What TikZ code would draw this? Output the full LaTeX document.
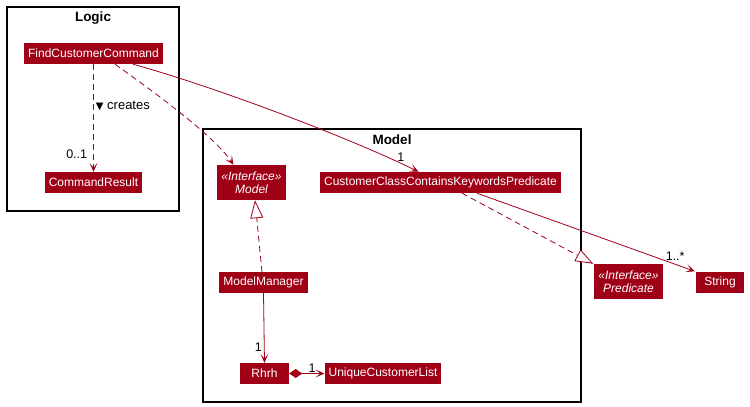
\documentclass[tikz,border=0pt]{standalone}
\usepackage{fontspec}
\setmainfont{Liberation Sans}
\newfontfamily\symfont{DejaVu Sans}
\usetikzlibrary{arrows.meta}
\definecolor{umlred}{RGB}{160,0,22}
\tikzset{
  cls/.style={
    fill=umlred,
    text=white,
    inner xsep=4pt,
    inner ysep=0pt,
    minimum height=21pt,
    font=\fontsize{12}{12}\selectfont},
  iface/.style={
    cls,
    align=center,
    minimum width=63pt,
    minimum height=35pt,
    font=\fontsize{12}{13.5}\selectfont\itshape},
  pkg/.style={draw, line width=1.2pt},
  pkgname/.style={font=\fontsize{13.5}{14}\selectfont\bfseries},
  mult/.style={font=\fontsize{12.5}{12}\selectfont, inner sep=0pt, text=black},
  assoc/.style={
    ->,
    >={Stealth[length=9pt,width=8pt,inset=5pt]},
    draw=umlred,
    line width=0.8pt},
  dep/.style={assoc, dash pattern=on 6pt off 4pt},
  real/.style={
    -{Triangle[open,length=18pt,width=13pt,fill=white]},
    draw=umlred,
    line width=0.8pt,
    dash pattern=on 6pt off 4pt},
  comp/.style={assoc, {Diamond[length=13pt,width=9pt]}->}
}

\begin{document}
\begin{tikzpicture}[x=1pt,y=-1pt]
  \useasboundingbox (0,0) rectangle (750,407);
  \draw[pkg] (7,7) rectangle (179,211);
  \draw[pkg] (203,129) rectangle (581,402);
  \node[pkgname] (logic) at (93,18) {Logic};
  \node[pkgname] (model) at (392,140) {Model};
  \node[cls] (fcc) at (93.5,53.5) {FindCustomerCommand};
  \node[cls] (cr) at (93.5,182.5) {CommandResult};
  \node[iface] (imodel) at (251.5,182.5) {«Interface»\\Model};
  \node[cls] (ckp) at (440.5,182.5) {CustomerClassContainsKeywordsPredicate};
  \node[cls] (mm) at (263.5,282.5) {ModelManager};
  \node[cls, minimum width=49pt] (rhrh) at (264.5,373.5) {Rhrh};
  \node[cls] (ucl) at (383,373.5) {UniqueCustomerList};
  \node[iface] (ipred) at (628.5,281.5) {«Interface»\\Predicate};
  \node[cls, minimum width=48pt] (str) at (720,282) {String};
  \draw [dep] (fcc.south) -- node[mult, pos=0.39, right=2pt, font=\fontsize{13}{13}\selectfont]{{\symfont\fontsize{10}{10}\selectfont ▼} creates}
    node[mult, pos=0.84, left=6pt]{0..1} (cr.north);
  \draw [dep] ([xshift=21.5pt]fcc.south) .. controls +(35,25) and +(-20,-30) .. ([xshift=-18pt]imodel.north);
  \draw [assoc] ([xshift=39.5pt]fcc.south) .. controls +(90,25) and +(-60,-30) ..
    node[mult, pos=0.93, above=3pt, xshift=-4pt]{1} ([xshift=-22pt]ckp.north);
  \draw [real] ([xshift=-1.5pt]mm.north) -- ([xshift=3.5pt]imodel.south);
  \draw [assoc] (mm.south) -- node[mult, pos=0.77, left=2pt]{1} (rhrh.north);
  \draw [comp] (rhrh.east) -- node[mult, pos=0.65, above=1pt]{1} (ucl.west);
  \draw [real] ([xshift=21.5pt]ckp.south) -- ([xshift=-1pt]ipred.north west);
  \draw [assoc] ([xshift=36.5pt]ckp.south) -- node[mult, pos=0.91, above=3pt]{1..*} ([xshift=-1pt]str.north west);
\end{tikzpicture}
\end{document}
